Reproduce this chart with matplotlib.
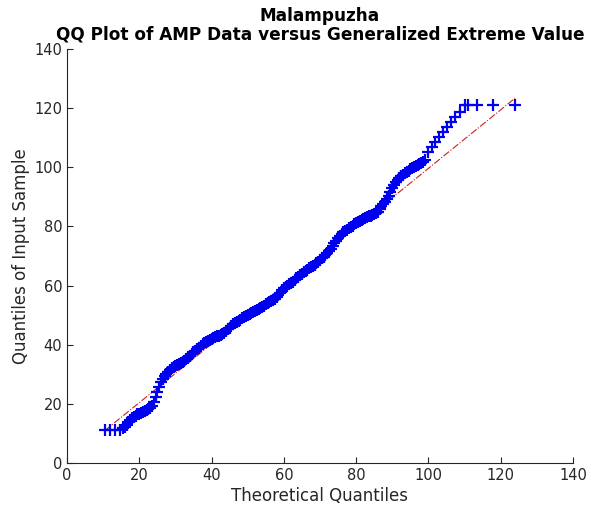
import matplotlib
matplotlib.use("Agg")
import matplotlib.pyplot as plt

# theoretical GEV quantiles (x) and sorted AMP sample (y)
theoretical_q = [
    10.5, 11.9, 13.3, 14.7, 15.5,
    16, 16.5, 17, 17.5, 18, 18.5, 19, 19.5, 20, 20.5, 21, 21.5, 22, 22.5, 23, 23.5,
    24, 24.5, 25, 25.5, 26, 26.5, 27, 27.5, 28, 28.5, 29, 29.5, 30, 30.5, 31, 31.5,
    32, 32.5, 33, 33.5, 34, 34.5, 35, 35.5, 36, 36.5, 37, 37.5, 38, 38.5, 39, 39.5,
    40, 40.5, 41, 41.5, 42, 42.5, 43, 43.5, 44, 44.5, 45, 45.5, 46, 46.5, 47, 47.5,
    48, 48.5, 49, 49.5, 50, 50.5, 51, 51.5, 52, 52.5, 53, 53.5, 54, 54.5, 55, 55.5,
    56, 56.5, 57, 57.5, 58, 58.5, 59, 59.5, 60, 60.5, 61, 61.5, 62, 62.5, 63, 63.5,
    64, 64.5, 65, 65.5, 66, 66.5, 67, 67.5, 68, 68.5, 69, 69.5, 70, 70.5, 71, 71.5,
    72, 72.5, 73, 73.5, 74, 74.5, 75, 75.5, 76, 76.5, 77, 77.5, 78, 78.5, 79, 79.5,
    80, 80.5, 81, 81.5, 82, 82.5, 83, 83.5, 84, 84.5, 85, 85.5, 86, 86.5, 87, 87.5,
    88, 88.5, 89, 89.5, 90, 90.5, 91, 91.5, 92, 92.5, 93, 93.5, 94, 94.5, 95, 95.5,
    96, 96.5, 97, 97.5, 98, 98.5, 99,
    99.9, 101, 101.8, 102.9, 104, 105.1, 106.3, 107.4, 108.7,
    110.1, 111, 113.4, 117.9, 124]
sample_q = [
    11, 11, 11, 11, 11.8,
    12.3, 13, 13.8, 14.5, 15.2, 15.6, 16, 16.4, 16.7, 17, 17.2, 17.5, 17.9, 18.2, 18.6, 19.4,
    20.5, 22.2, 24, 25.8, 27.5, 28.5, 29.3, 30.1, 30.8, 31.5, 32.2, 32.6, 32.9, 33.3, 33.6, 33.9,
    34.2, 34.6, 35, 35.6, 36.3, 36.9, 37.4, 37.9, 38.4, 39, 39.6, 40.1, 40.5, 40.9, 41.2, 41.6,
    41.9, 42.3, 42.6, 42.9, 43.1, 43.4, 43.7, 44.1, 44.6, 45.2, 45.8, 46.4, 46.9, 47.3, 47.7, 48.1,
    48.5, 49, 49.4, 49.7, 50, 50.3, 50.6, 51, 51.3, 51.7, 52, 52.4, 52.8, 53.2, 53.6, 54,
    54.4, 54.8, 55.2, 55.6, 56.1, 56.8, 57.6, 58.4, 59.2, 59.6, 60, 60.4, 60.8, 61.3, 61.8, 62.4,
    63, 63.5, 64, 64.5, 65, 65.4, 65.8, 66.2, 66.7, 67.1, 67.6, 68.1, 68.6, 69.2, 69.8, 70.4,
    71, 71.7, 72.5, 73.4, 74.3, 75.2, 76, 76.7, 77.4, 78, 78.5, 78.9, 79.3, 79.8, 80.3, 80.8,
    81.2, 81.6, 82, 82.3, 82.6, 82.9, 83.2, 83.4, 83.6, 83.8, 84.1, 84.5, 85, 85.8, 86.8, 87.5,
    88.3, 89.3, 90.3, 91.6, 93, 94, 95, 95.8, 96.5, 97, 97.5, 98, 98.4, 98.9, 99.3, 99.7,
    100.1, 100.4, 100.7, 101, 101.4, 101.9, 102.5,
    105.2, 106.9, 108.6, 110.2, 111.9, 113.6, 115.3, 117, 118.7,
    121.1, 121.1, 121.1, 121.1, 121.1]

# reference line end points (through the quartiles, over the data range)
ref_x = [10.5, 124]
ref_y = [11, 123.4]

ticks = [0, 20, 40, 60, 80, 100, 120, 140]
grey = "#262626"

fig = plt.figure(figsize=(5.94, 5.18), dpi=100)
ax = fig.add_axes([0.1128, 0.1062, 0.8518, 0.7992])

ax.plot(ref_x, ref_y, linestyle="-.", color="#cc2020", linewidth=0.8)
ax.plot(theoretical_q, sample_q, "+", color="#0000f0", markersize=8.5, markeredgewidth=1.6)

ax.set_xlim(0, 140)
ax.set_ylim(0, 140)
ax.set_xticks(ticks)
ax.set_yticks(ticks)
ax.tick_params(direction="in", length=4, width=0.8, colors=grey, labelsize=10.5)
for side in ["top", "right"]:
    ax.spines[side].set_visible(False)
for side in ["left", "bottom"]:
    ax.spines[side].set_color(grey)
    ax.spines[side].set_linewidth(0.8)

ax.set_xlabel("Theoretical Quantiles", fontsize=12, color=grey, labelpad=3)
ax.set_ylabel("Quantiles of Input Sample", fontsize=12, color=grey, labelpad=3)
ax.set_title("Malampuzha\nQQ Plot of AMP Data versus Generalized Extreme Value",
             fontsize=12.2, fontweight="bold", color="black", pad=7, linespacing=1.05)

fig.savefig("out.png", dpi=100, facecolor="white")
